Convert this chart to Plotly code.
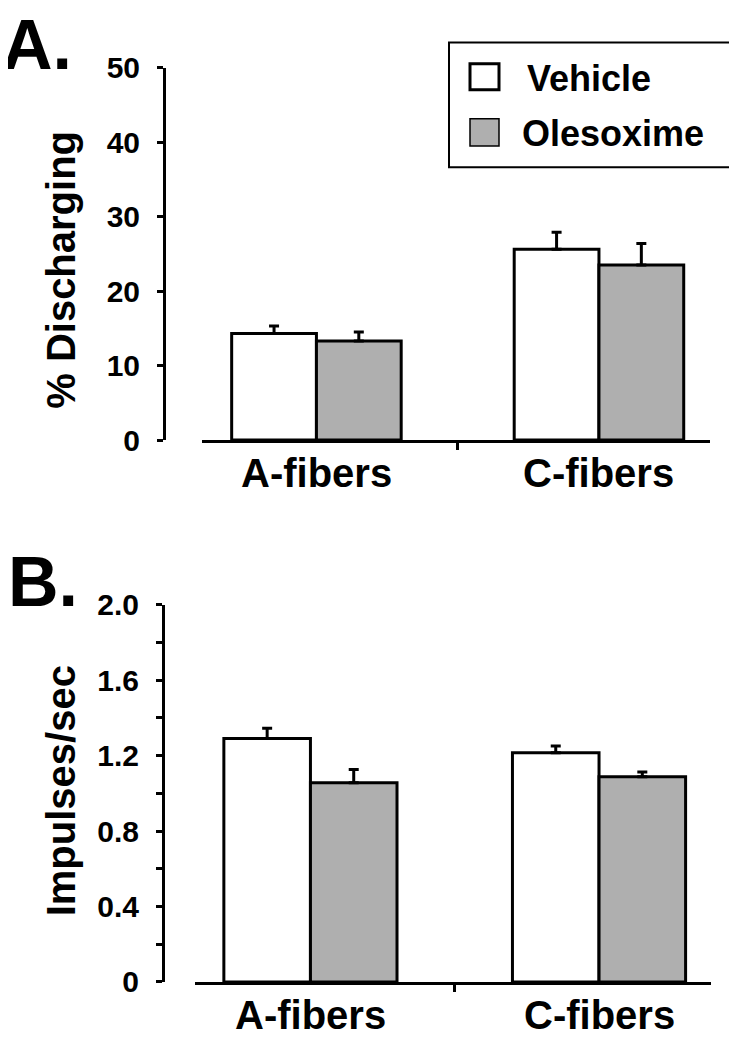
import plotly.graph_objects as go

W, H = 737, 1049
OFF = 8  # page body margin offset

categories = ["A-fibers", "C-fibers"]
series_names = ["Vehicle", "Olesoxime"]

# Panel A: % Discharging
a_vehicle = [14.3, 25.6]
a_vehicle_err = [1.0, 2.3]
a_oles = [13.3, 23.5]
a_oles_err = [1.2, 2.9]

# Panel B: Impulses/sec
b_vehicle = [1.29, 1.215]
b_vehicle_err = [0.055, 0.035]
b_oles = [1.056, 1.088]
b_oles_err = [0.07, 0.025]

a_ticks = [0, 10, 20, 30, 40, 50]
a_ticktext = ["0", "10", "20", "30", "40", "50"]
b_ticks = [0, 0.4, 0.8, 1.2, 1.6, 2.0]
b_ticktext = ["0", "0.4", "0.8", "1.2", "1.6", "2.0"]

FONT = "Liberation Sans, Arial, sans-serif"
GRAY = "#afafaf"
xpos = list(range(len(categories)))


def fx(x):
    return (x - OFF) / W


def fy(y):
    return 1 - (y - OFF) / H


def bars(vals, errs, name, color, xa, ya):
    return go.Bar(
        x=xpos, y=vals, name=name, xaxis=xa, yaxis=ya,
        marker=dict(color=color, line=dict(color="black", width=3)),
        error_y=dict(type="data", symmetric=False, array=errs,
                     arrayminus=[0] * len(errs), color="black",
                     thickness=3, width=5),
        offsetgroup=name, showlegend=False,
    )


fig = go.Figure()
fig.add_trace(bars(a_vehicle, a_vehicle_err, "Vehicle", "white", "x", "y"))
fig.add_trace(bars(a_oles, a_oles_err, "Olesoxime", GRAY, "x", "y"))
fig.add_trace(bars(b_vehicle, b_vehicle_err, "Vehicle", "white", "x2", "y2"))
fig.add_trace(bars(b_oles, b_oles_err, "Olesoxime", GRAY, "x2", "y2"))

tickfont = dict(family=FONT, size=30, color="black", weight="bold")

xcommon = dict(
    showline=True, linewidth=3, linecolor="black", showgrid=False,
    zeroline=False, tickmode="array", tickvals=[0.5], ticktext=[""],
    ticks="outside", ticklen=7, tickwidth=3, tickcolor="black",
    showticklabels=False,
)
ycommon = dict(
    showline=True, linewidth=3, linecolor="black", showgrid=False,
    zeroline=False, ticks="outside", ticklen=6, tickwidth=3,
    tickcolor="black", tickfont=tickfont, tickmode="array",
    ticklabelstandoff=11, anchor="free",
)

fig.update_layout(
    width=W, height=H, margin=dict(l=0, r=0, t=0, b=0),
    paper_bgcolor="white", plot_bgcolor="white",
    barmode="group", bargap=0.4, bargroupgap=0,
    xaxis=dict(xcommon, domain=[fx(202), fx(710)], range=[-0.405, 1.393],
               anchor="y"),
    yaxis=dict(ycommon, domain=[fy(437), fy(52)], range=[0, 50],
               tickvals=a_ticks, ticktext=a_ticktext, position=fx(164)),
    xaxis2=dict(xcommon, domain=[fx(195), fx(711)], range=[-0.40, 1.388],
                anchor="y2"),
    yaxis2=dict(ycommon, domain=[fy(997), fy(607)], range=[0, 2.0],
                tickvals=b_ticks, ticktext=b_ticktext, position=fx(163),
                minor=dict(dtick=0.2, tick0=0, ticks="outside", ticklen=6,
                           tickwidth=3, tickcolor="black")),
)

ann = []


def text(x, y, s, size, xanchor="center", angle=0, xref="paper"):
    ann.append(dict(x=x if xref != "paper" else fx(x), y=fy(y), xref=xref,
                    yref="paper", text=s,
                    showarrow=False, xanchor=xanchor, yanchor="middle",
                    textangle=angle,
                    font=dict(family=FONT, size=size, color="black",
                              weight="bold")))


text(0, 29, "A.", 70, xanchor="left")
text(6, 584, "B.", 70, xanchor="left")
text(61, 261, "% Discharging", 40, angle=-90)
text(61, 800, "Impulses/sec", 40, angle=-90)
text(525, 63, "Vehicle", 36, xanchor="left")
text(520, 120, "Olesoxime", 36, xanchor="left")
for i, c in enumerate(categories):
    text(xpos[i], 471, c, 40, xref="x")
    text(xpos[i], 1031, c, 40, xref="x2")

shapes = []


def rect(x0, y0, x1, y1, fill, lw):
    shapes.append(dict(type="rect", xref="paper", yref="paper",
                       x0=fx(x0), y0=fy(y0), x1=fx(x1), y1=fy(y1),
                       fillcolor=fill, line=dict(color="black", width=lw)))


rect(449, 26, 734, 155, "rgba(0,0,0,0)", 2)
rect(470, 48, 499, 75, "white", 3)
rect(470, 105, 499, 133, GRAY, 1.5)

fig.update_layout(annotations=ann, shapes=shapes)
fig.write_html("out.html")
